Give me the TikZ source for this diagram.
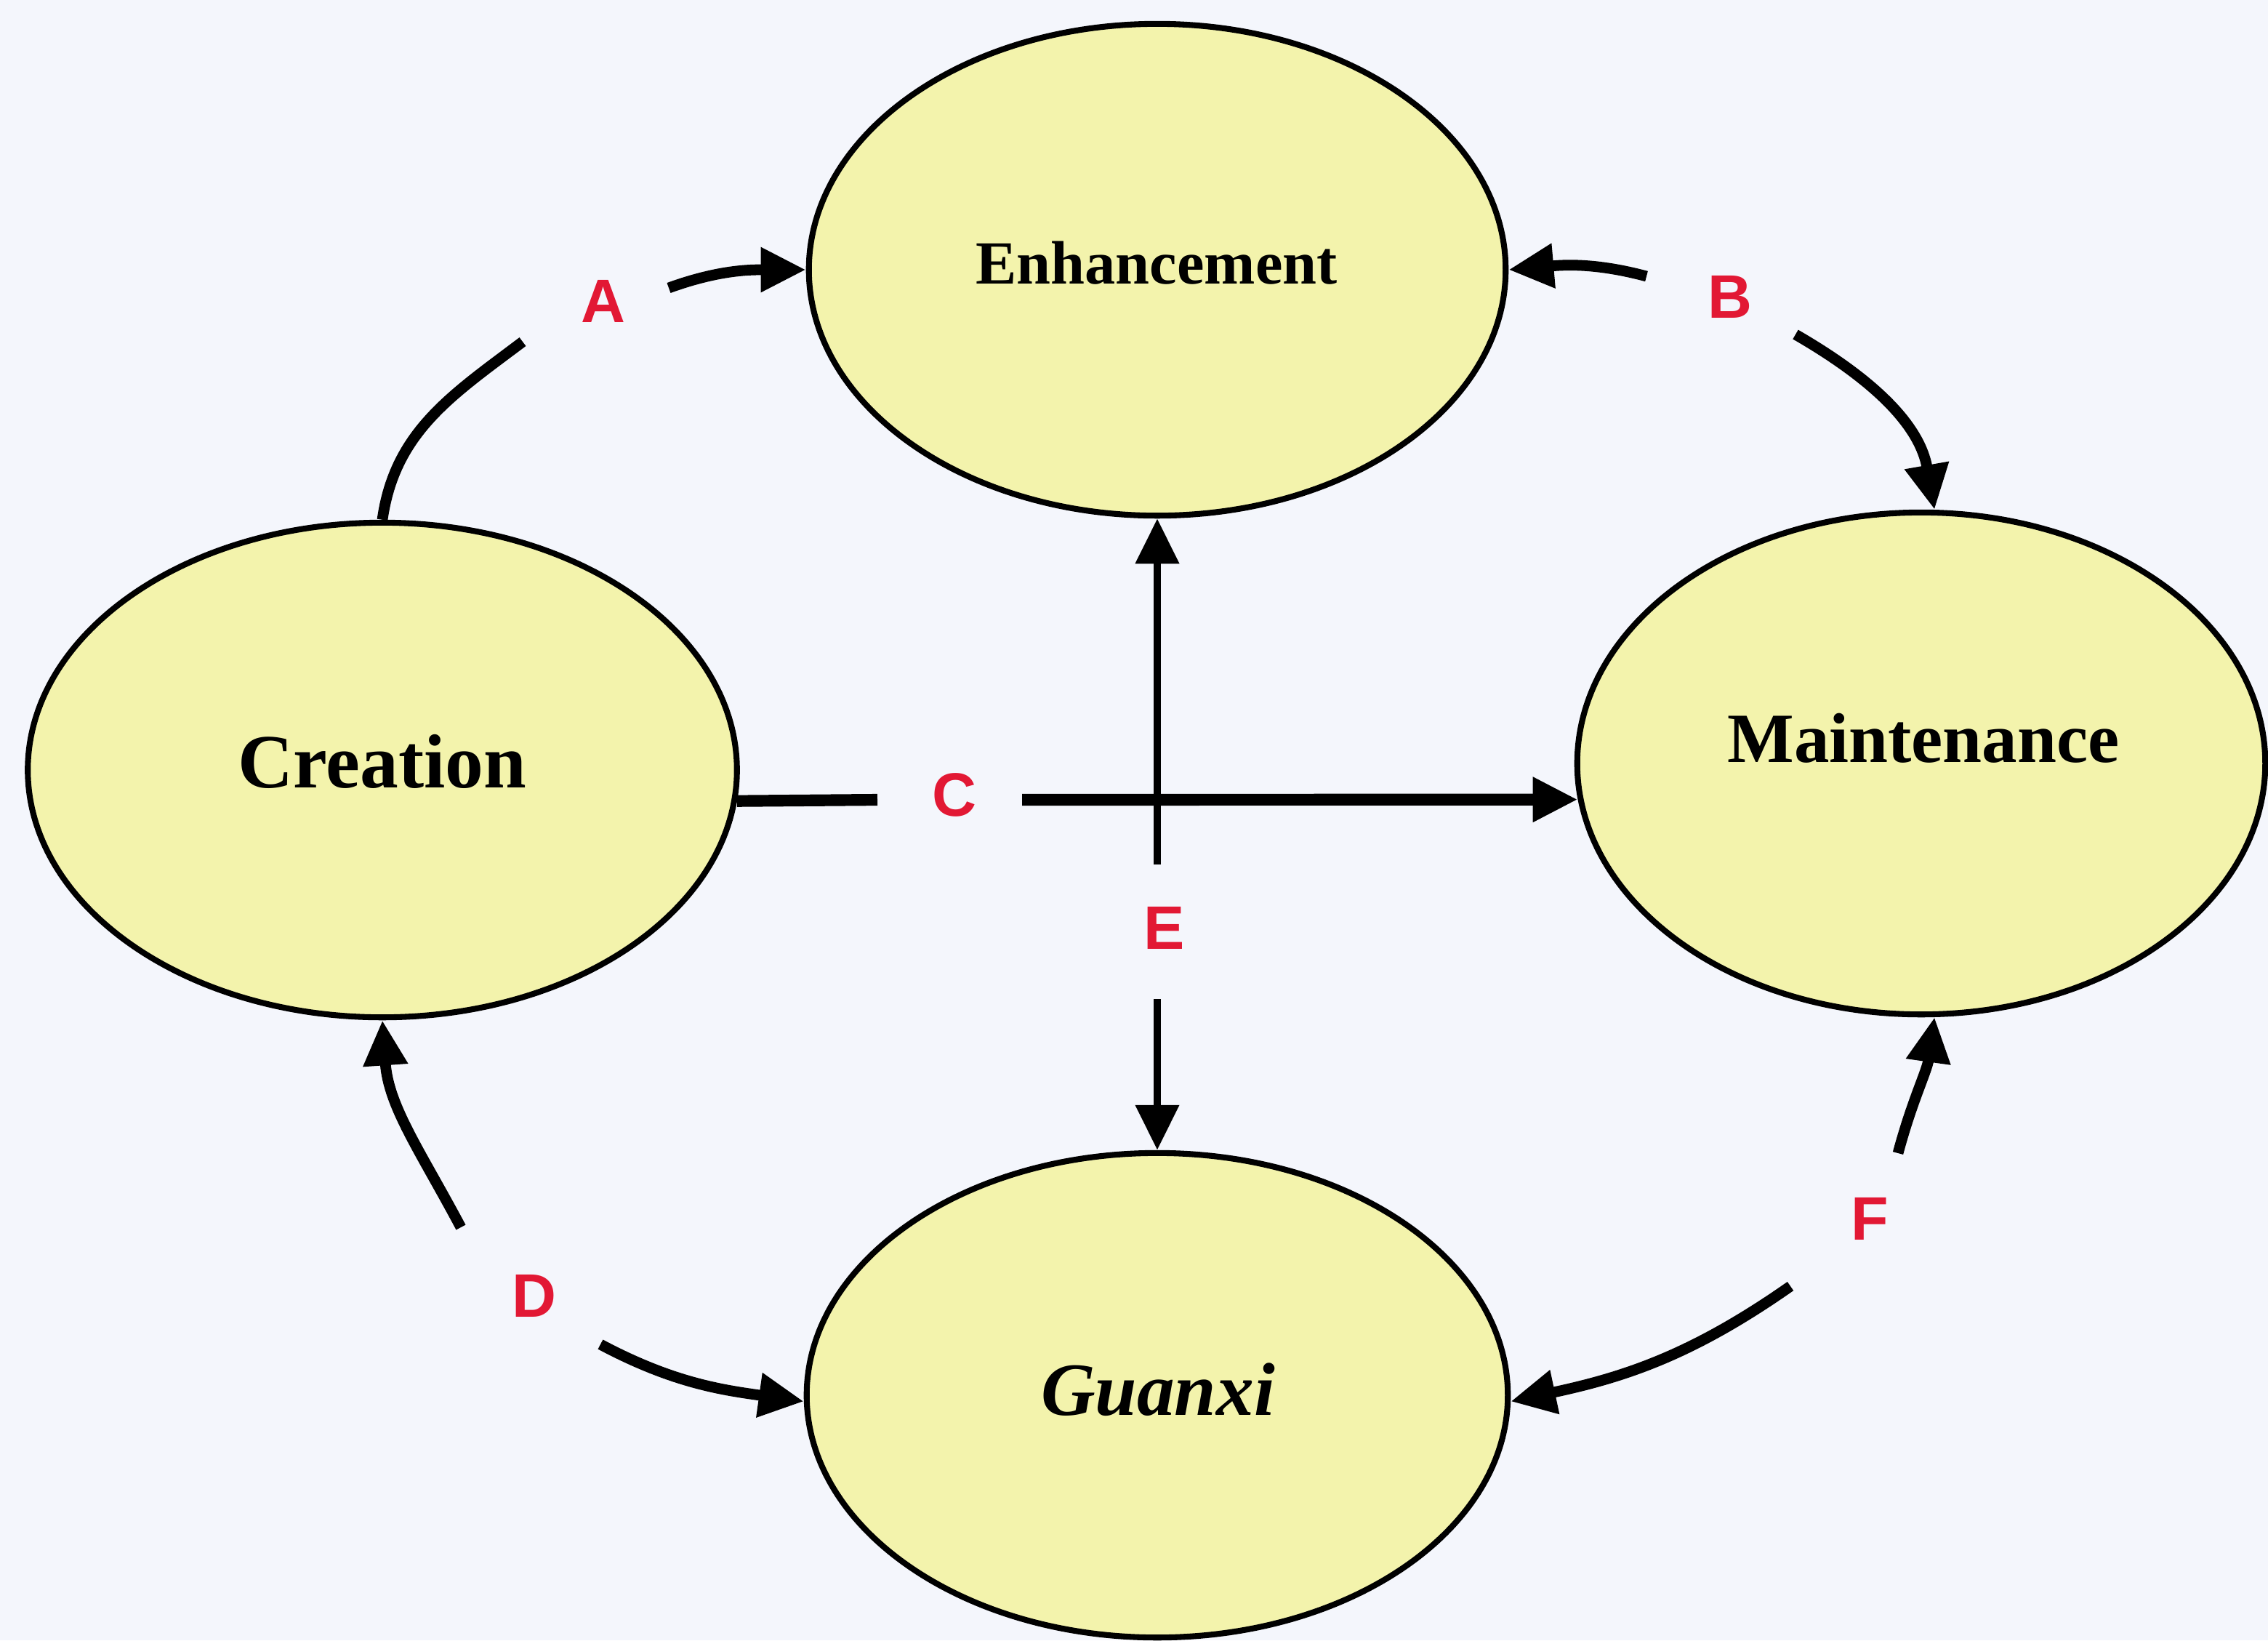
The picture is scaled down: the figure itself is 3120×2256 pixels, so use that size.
\documentclass[tikz,border=0pt]{standalone}
\usepackage{fontspec}
\setmainfont{Liberation Serif}
\newfontfamily\labfont{Liberation Sans}
\usetikzlibrary{arrows.meta,shapes.geometric}
\definecolor{bgc}{RGB}{244,246,252}
\definecolor{ovalfill}{RGB}{243,243,172}
\definecolor{labred}{RGB}{226,24,52}
\begin{document}
\begin{tikzpicture}[x=0.01cm,y=-0.01cm,
  oval/.style={ellipse, draw=black, line width=2.3pt, fill=ovalfill, inner sep=0pt},
  ovaltext/.style={anchor=base, inner sep=0pt},
  lab/.style={text=labred, font=\labfont\bfseries\fontsize{24}{28}\selectfont, inner sep=0pt},
  conn/.style={line width=4.2pt},
  tip/.style={-{Triangle[length=0.62cm,width=0.58cm]}},
]
\fill[bgc] (0,0) rectangle (3120,2256);
\useasboundingbox (0,0) rectangle (3120,2256);

% ellipses
\node[oval, minimum width=9.58cm, minimum height=6.76cm] (enh) at (1592,371) {};
\node[oval, minimum width=9.75cm, minimum height=6.80cm] (cre) at (526,1059) {};
\node[oval, minimum width=9.46cm, minimum height=6.90cm] (mai) at (2643,1050) {};
\node[oval, minimum width=9.64cm, minimum height=6.66cm] (gua) at (1592,1919) {};

% texts
\node[ovaltext, font=\bfseries\fontsize{24}{28}\selectfont] (tenh) at (1591,390) {Enhancement};
\node[ovaltext, font=\bfseries\fontsize{30}{36}\selectfont] (tcre) at (526,1083) {Creation};
\node[ovaltext, font=\bfseries\fontsize{27.6}{33}\selectfont] (tmai) at (2646,1048) {Maintenance};
\node[ovaltext, font=\bfseries\itshape\fontsize{29.4}{35}\selectfont] (tgua) at (1593,1946) {Guanxi};

% free ends
\coordinate (a1) at (719,470);
\coordinate (a2) at (920,396);
\coordinate (b1) at (2265,380);
\coordinate (b2) at (2470,460);
\coordinate (c1) at (1207,1100);
\coordinate (c2) at (1406,1100);
\coordinate (d1) at (634,1688);
\coordinate (d2) at (826,1849);
\coordinate (e1) at (1592,1189);
\coordinate (e2) at (1592,1374);
\coordinate (f1) at (2611,1586);
\coordinate (f2) at (2463,1769);

% connectors
\draw[conn] (cre.north) to[out=82,in=217] (a1);
\draw[conn,tip] (a2) to[out=20,in=180] (enh.west);
\draw[conn,tip] (b1) to[out=165,in=5] (enh.east);
\draw[conn,tip] (b2) to[out=-30,in=100] (mai.87);
\draw[conn,line width=4.6pt] (cre.-5) -- (c1);
\draw[conn,line width=4.6pt,tip] (c2) -- (mai.186);
\draw[conn,line width=3pt,tip] (e1) -- (enh.south);
\draw[conn,line width=3pt,tip] (e2) -- (gua.north);
\draw[conn,tip] (d1) to[out=118,in=-86] (cre.south);
\draw[conn,tip] (d2) to[out=-28,in=172] (gua.181);
\draw[conn,tip] (f1) to[out=75,in=-98] (mai.-87);
\draw[conn,tip] (f2) to[out=215,in=12] (gua.-1);

% labels
\node[lab] (la) at (830,414) {A};
\node[lab] (lb) at (2380,408) {B};
\node[lab] (lc) at (1313,1093) {C};
\node[lab] (ld) at (735,1782) {D};
\node[lab] (le) at (1602,1276) {E};
\node[lab] (lf) at (2572,1676) {F};
\end{tikzpicture}
\end{document}
